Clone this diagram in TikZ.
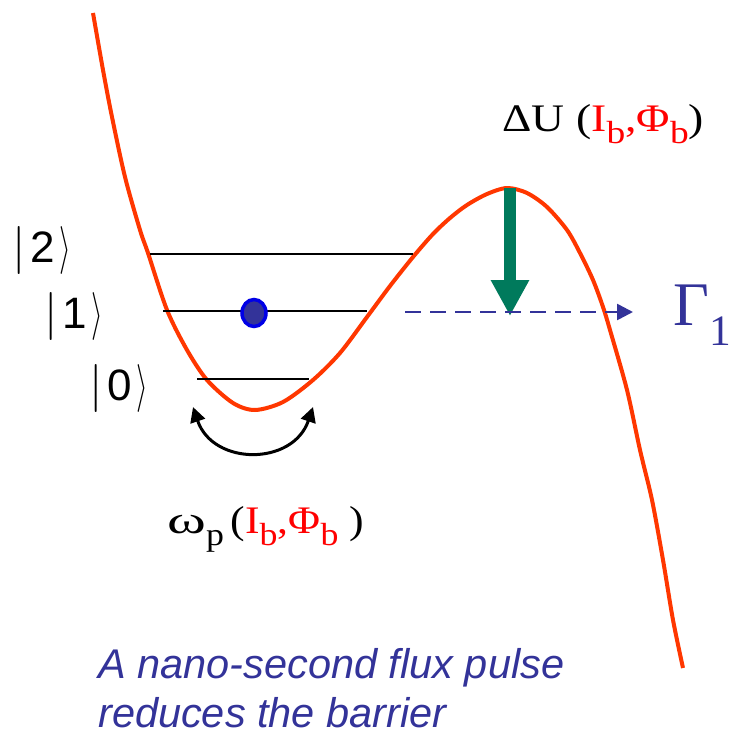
\documentclass[tikz,border=0pt]{standalone}
\usepackage{graphicx}
\usepackage{fontspec}
\setmainfont{Liberation Serif}
\setsansfont{Liberation Sans}
\usetikzlibrary{arrows.meta,shapes.geometric}
\definecolor{pot}{RGB}{255,55,0}
\definecolor{navy}{RGB}{51,51,153}
\definecolor{dotblue}{RGB}{0,0,230}
\definecolor{arrgreen}{RGB}{0,122,92}
\definecolor{lblred}{RGB}{255,0,0}
\newcommand{\lowsub}[1]{\raisebox{-12pt}{\fontsize{32}{36}\selectfont #1}}
\newcommand{\ketof}[1]{\scalebox{4.8}{\fontsize{10}{12}\selectfont$|$}\hspace{5pt}#1\hspace{4pt}\scalebox{3}[4.8]{\fontsize{10}{12}\selectfont$\rangle$}}
\begin{document}
\begin{tikzpicture}[x=1pt,y=-1pt,
  potential/.style={draw=pot,line width=4pt,line join=round},
  level/.style={draw=black,line width=2.6pt},
  ket/.style={anchor=base west,inner sep=0pt,font=\sffamily\fontsize{44}{50}\selectfont},
  serlabel/.style={anchor=base west,inner sep=0pt,font=\fontsize{39}{44}\selectfont},
  escape/.style={draw=navy,line width=2.6pt,dash pattern=on 16pt off 9pt,-{Triangle[length=16pt,width=16pt]}},
  barrier/.style={draw=arrgreen,line width=12pt,-{Triangle[length=36pt,width=36pt]}},
  osc/.style={draw=black,line width=3pt,{Triangle[length=15pt,width=15pt]}-{Triangle[length=15pt,width=15pt]}},
  particle/.style={ellipse,draw=dotblue,fill=navy,line width=3.5pt,minimum width=24pt,minimum height=27pt,inner sep=0pt},
  note/.style={anchor=base west,inner sep=0pt,text=navy,font=\sffamily\itshape\fontsize{41.5}{48}\selectfont}]
\useasboundingbox (0,0) rectangle (731,738);
% potential curve
\draw[potential] plot[smooth,tension=0.5] coordinates {
 (93,13) (103,70) (112,117) (125,177) (140,230) (148,253) (167,310)
 (187,350) (207,380) (233,403) (255,410) (283,402) (313,380) (340,353)
 (367,317) (390,286) (413,257) (433,234) (450,218) (467,205) (487,194)
 (507,188) (527,193) (547,207) (567,230) (580,253) (593,280) (603,307)
 (610,330) (627,390) (640,450) (652,500) (663,560) (673,620) (683,668)};
% energy levels
\coordinate (l2a) at (150,254); \coordinate (l2b) at (413,254);
\coordinate (l1a) at (163,311); \coordinate (l1b) at (367,311);
\coordinate (l0a) at (197,379); \coordinate (l0b) at (309,379);
\draw[level] (l2a) -- (l2b);
\draw[level] (l1a) -- (l1b);
\draw[level] (l0a) -- (l0b);
% kets
\node[ket] (k2) at (12,262) {\ketof{2}};
\node[ket] (k1) at (44,328) {\ketof{1}};
\node[ket] (k0) at (89,400) {\ketof{0}};
% particle
\node[particle] (dot) at (254,313) {};
% barrier arrow
\coordinate (top) at (510,188);
\coordinate (bot) at (510,316);
\draw[barrier] (top) -- (bot);
% escape arrow
\coordinate (esc0) at (405,312);
\coordinate (esc1) at (633,312);
\draw[escape] (esc0) -- (esc1);
% oscillation arrow
\coordinate (oa) at (193,407);
\coordinate (ob) at (313,407);
\draw[osc] (oa) .. controls (213,466) and (293,466) .. (ob);
% labels
\node[serlabel] (du) at (502,132)
  {\scalebox{1.17}[1]{ΔU\hspace{10pt}(\textcolor{lblred}{I\lowsub{b},Φ\lowsub{b}})}};
\node[serlabel] (wp) at (167,533)
  {\scalebox{1.12}[1]{\scalebox{1.35}[1]{ω}\lowsub{p}\hspace{6pt}(\textcolor{lblred}{I\lowsub{b},Φ\lowsub{b}}\hspace{10pt})}};
\node[serlabel,text=navy,font=\fontsize{62}{70}\selectfont] (gam) at (673,325)
  {Γ\textsubscript{1}};
\node[note] (t1) at (98,678) {A nano-second flux pulse};
\node[note] (t2) at (98,727) {reduces the barrier};
\end{tikzpicture}
\end{document}
